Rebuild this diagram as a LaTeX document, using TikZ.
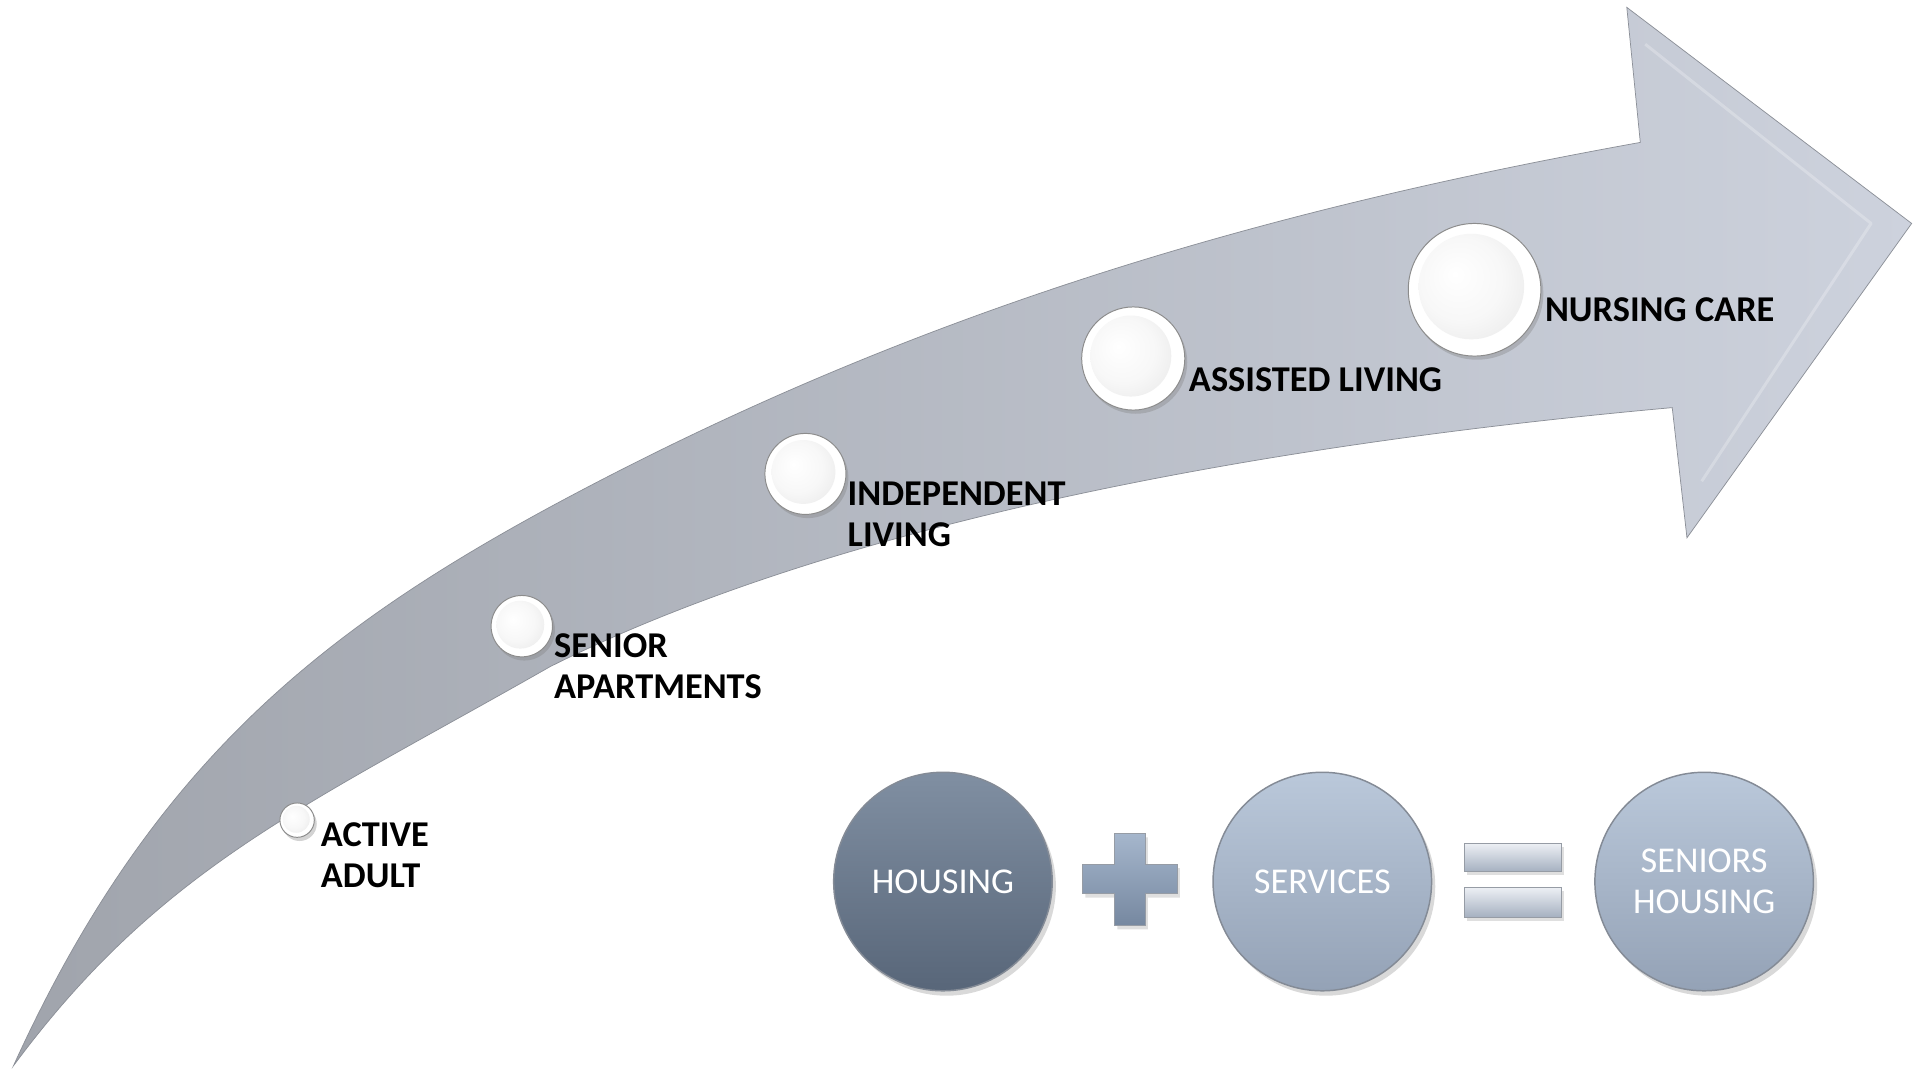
\documentclass[tikz,border=0pt]{standalone}
\usepackage{fontspec}
\setmainfont{Carlito}
\usetikzlibrary{shadows}
\definecolor{arrdark}{RGB}{160,164,172}
\definecolor{arrlight}{RGB}{205,210,221}
\definecolor{arredge}{RGB}{140,144,152}
\definecolor{housetop}{RGB}{128,143,162}
\definecolor{housebot}{RGB}{88,102,121}
\definecolor{servtop}{RGB}{186,200,218}
\definecolor{servbot}{RGB}{148,162,182}
\definecolor{circedge}{RGB}{80,90,105}
\definecolor{plustop}{RGB}{165,182,204}
\definecolor{plusbot}{RGB}{118,136,160}
\definecolor{eqtop}{RGB}{236,239,244}
\definecolor{eqbot}{RGB}{165,176,192}
\pgfdeclareradialshading{pearlring}{\pgfpoint{0bp}{0bp}}{color(0bp)=(white); color(36bp)=(white); color(44bp)=(white!88!black); color(49bp)=(white!62!black); color(50bp)=(white!50!black)}
\pgfdeclareradialshading{pearlcore}{\pgfpoint{-8bp}{6bp}}{color(0bp)=(white); color(20bp)=(white!97!black); color(40bp)=(white!90!black); color(50bp)=(white!84!black)}
\tikzset{
  pearl/.style={circle, draw=white!55!black, line width=0.4pt, shading=pearlring, inner sep=0pt,
    drop shadow={opacity=0.35, shadow xshift=1pt, shadow yshift=-1.5pt}},
  pearlcoreshade/.style={shading=pearlcore},
  steplabel/.style={anchor=north west, inner sep=0pt, align=left, font=\bfseries\fontsize{14.8}{16.6}\selectfont},
  bigdisc/.style={circle, inner sep=0pt, minimum size=89pt, draw=circedge!70, line width=0.6pt, text=white,
    align=center, font=\fontsize{14.8}{16.6}\selectfont,
    drop shadow={opacity=0.3, shadow xshift=1.5pt, shadow yshift=-2pt}},
  housingdisc/.style={bigdisc, top color=housetop, bottom color=housebot},
  servicedisc/.style={bigdisc, top color=servtop, bottom color=servbot},
  opshape/.style={draw=circedge!60, line width=0.4pt, drop shadow={opacity=0.25, shadow xshift=1pt, shadow yshift=-1.5pt}},
  plusshape/.style={opshape, top color=plustop, bottom color=plusbot},
  eqshape/.style={opshape, top color=eqtop, bottom color=eqbot},
}
\begin{document}
\begin{tikzpicture}[x=0.5pt,y=-0.5pt]
\useasboundingbox (0,0) rectangle (1563,871);
% big curved arrow
\path[left color=arrdark, right color=arrlight, draw=arredge, line width=0.3pt]
  (11,868) .. controls (121,626) and (258,516) .. (448,413)
  .. controls (748,251) and (1036,170) .. (1336,116)
  -- (1325,6) -- (1557,182) -- (1374,438) -- (1362,332)
  .. controls (1062,359) and (698,418) .. (448,543)
  .. controls (248,657) and (131,706) .. (11,868) -- cycle;
\draw[white, opacity=0.25, line width=1.2pt, line join=round] (1340,36) -- (1524,182) -- (1386,392);
% pearls
\node[pearl, minimum size=14pt] (p1) at (242,668) {};
\node[pearl, minimum size=25pt] (p2) at (425,510) {};
\node[pearl, minimum size=33pt] (p3) at (656,386) {};
\node[pearl, minimum size=42pt] (p4) at (923,292) {};
\node[pearl, minimum size=54pt] (p5) at (1201,236) {};
\shade[pearlcoreshade] (p1.center) ++(-0.7,-0.7) circle (11);
\shade[pearlcoreshade] (p2.center) ++(-1.2,-1.2) circle (19.5);
\shade[pearlcoreshade] (p3.center) ++(-1.6,-1.6) circle (26);
\shade[pearlcoreshade] (p4.center) ++(-2,-2) circle (33);
\shade[pearlcoreshade] (p5.center) ++(-2.6,-2.6) circle (43);
% labels
\node[steplabel] (l1) at (261,670) {ACTIVE\\ADULT};
\node[steplabel] (l2) at (451,516) {SENIOR\\APARTMENTS};
\node[steplabel] (l3) at (690,392) {INDEPENDENT\\LIVING};
\node[steplabel] (l4) at (968,299) {ASSISTED LIVING};
\node[steplabel] (l5) at (1258,242) {NURSING CARE};
% equation
\node[housingdisc] (housing) at (768,718) {HOUSING};
\node[servicedisc] (services) at (1077,718) {SERVICES};
\node[servicedisc] (seniors) at (1388,718) {SENIORS\\HOUSING};
\path[plusshape] (908,679) -- (933,679) -- (933,704) -- (959,704) -- (959,728) -- (933,728)
  -- (933,754) -- (908,754) -- (908,728) -- (882,728) -- (882,704) -- (908,704) -- cycle;
\path[eqshape] (1193,687) rectangle (1272,710);
\path[eqshape] (1193,723) rectangle (1272,747);
\end{tikzpicture}
\end{document}
